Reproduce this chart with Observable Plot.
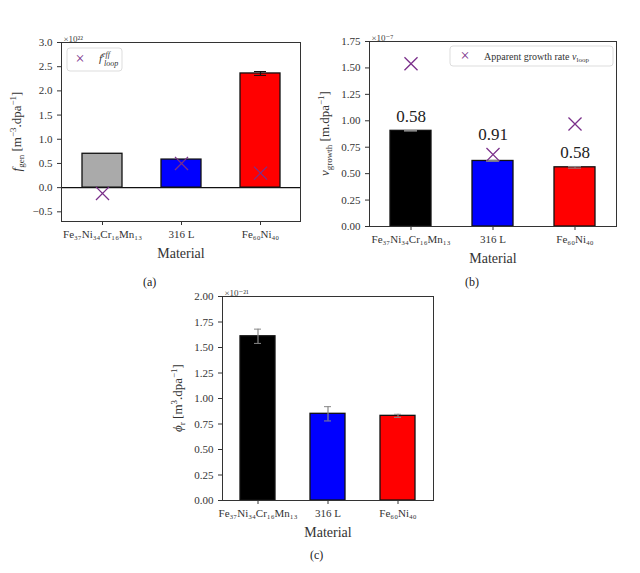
<!DOCTYPE html>
<html><head><meta charset="utf-8">
<script src="https://cdn.jsdelivr.net/npm/d3@7"></script>
<script src="https://cdn.jsdelivr.net/npm/@observablehq/plot@0.6"></script>
<style>
body{margin:0;background:#fff;font-family:"Liberation Serif","DejaVu Serif",serif}
#wrap{position:relative;width:640px;height:573px;overflow:hidden}
#wrap svg{position:absolute;overflow:visible}
.lab{position:absolute;font-size:12px;color:#222}
</style></head><body><div id="wrap"></div>
<script>
const materials = ["Fe₃₇Ni₃₄Cr₁₆Mn₁₃", "316 L", "Fe₆₀Ni₄₀"];
const colorsA = ["#aaaaaa", "#0000ff", "#ff0000"];
const colorsBC = ["#000000", "#0000ff", "#ff0000"];
// (a)
const fGen = [0.70, 0.58, 2.36];
const fGenErr = [0, 0, 0.04];
const fLoop = [-0.12, 0.50, 0.30];
// (b)
const vGrowth = [0.905, 0.62, 0.56];
const vGrowthErr = [0.003, 0.004, 0.008];
const vLoop = [1.54, 0.68, 0.97];
const ratioLabels = ["0.58", "0.91", "0.58"];
const ratioLabelY = [1.04, 0.87, 0.70];
// (c)
const phiR = [1.61, 0.85, 0.83];
const phiRErr = [0.07, 0.07, 0.015];

const wrap = document.getElementById("wrap");
const FONT = "Liberation Serif, DejaVu Serif, serif";

function panel(cfg){
  const rows = materials.map((m,i)=>({m, v:cfg.vals[i], e:cfg.err[i], c:cfg.colors[i], p:cfg.pts?cfg.pts[i]:null, t:cfg.txt?cfg.txt[i]:null, ty:cfg.txtY?cfg.txtY[i]:null}));
  const marks = [
    Plot.barY(rows,{x:"m",y:"v",fill:"c",stroke:"#111",strokeWidth:1.3}),
    Plot.ruleX(rows.filter(d=>d.e>0),{x:"m",y1:d=>d.v-d.e,y2:d=>d.v+d.e,stroke:cfg.errColor,strokeWidth:1.2}),
    Plot.tickY(rows.filter(d=>d.e>0),{x:"m",y:d=>d.v-d.e,stroke:cfg.errColor,inset:14}),
    Plot.tickY(rows.filter(d=>d.e>0),{x:"m",y:d=>d.v+d.e,stroke:cfg.errColor,inset:14}),
  ];
  if(cfg.zero) marks.push(Plot.ruleY([0],{stroke:"#111",strokeWidth:1.2}));
  if(cfg.pts) marks.push(Plot.dot(rows,{x:"m",y:"p",symbol:"times",r:6,stroke:"#7a2f8a",strokeWidth:1.3}));
  if(cfg.txt) marks.push(Plot.text(rows,{x:"m",y:"ty",text:"t",fontSize:17,fill:"#222"}));
  marks.push(Plot.frame({stroke:"#333"}));
  marks.push(Plot.text([cfg.exp],{frameAnchor:"top-left",text:d=>d,dy:-7,dx:2,textAnchor:"start",fontSize:9,fill:"#444"}));
  const svg = Plot.plot({
    width:cfg.w, height:cfg.h, marginLeft:cfg.ml, marginRight:cfg.mr, marginTop:12, marginBottom:40,
    style:{fontFamily:FONT,fontSize:"11px",color:"#333",background:"transparent"},
    x:{domain:materials,paddingInner:0.5,paddingOuter:0.25,label:"Material",labelAnchor:"center",labelOffset:36,tickSize:4},
    y:{domain:cfg.dom,ticks:cfg.ticks,tickFormat:cfg.fmt,label:null,tickSize:4},
    marks
  });
  svg.style.left=cfg.left+"px"; svg.style.top=cfg.top+"px";
  svg.querySelectorAll("[aria-label='x-axis label'] text").forEach(t=>t.setAttribute("font-size","14"));
  const s = d3.select(svg);
  const fh = cfg.h-52;
  const lab = s.append("text").attr("transform",`translate(${cfg.ml-40},${12+fh/2}) rotate(-90)`)
    .attr("text-anchor","middle").attr("font-size",13).attr("fill","#333").attr("font-family",FONT);
  cfg.ylab(lab);
  if(cfg.legend) cfg.legend(s, cfg);
  wrap.appendChild(svg);
}
function sub(t,s){t.append("tspan").attr("font-size",9).attr("dy",3).text(s);t.append("tspan").attr("dy",-3).text("\u200b");}
function sup(t,s){t.append("tspan").attr("font-size",9).attr("dy",-5).text(s);t.append("tspan").attr("dy",5).text("\u200b");}
const f1 = d=>d.toFixed(1).replace("-","−");
const f2 = d=>d.toFixed(2);

panel({left:0,top:30,w:310,h:231,ml:61,mr:10,vals:fGen,err:fGenErr,colors:colorsA,pts:fLoop,errColor:"#111",zero:true,
  dom:[-0.7,3.0],ticks:d3.range(-0.5,3.01,0.5),fmt:f1,exp:"×10²²",
  ylab:t=>{t.append("tspan").attr("font-style","italic").text("f");sub(t,"gen");t.append("tspan").text(" [m");sup(t,"−3");t.append("tspan").text(".dpa");sup(t,"−1");t.append("tspan").text("]");},
  legend:(s)=>{const x=67,y=18;
    s.append("rect").attr("x",x).attr("y",y).attr("width",55).attr("height",23).attr("rx",3).attr("fill","#fff").attr("stroke","#ddd");
    s.append("text").attr("x",x+13).attr("y",y+16).attr("text-anchor","middle").attr("font-size",16).attr("fill","#7a2f8a").text("×");
    const t=s.append("text").attr("x",x+32).attr("y",y+14).attr("text-anchor","start").attr("font-size",11).attr("font-style","italic").attr("fill","#333").attr("font-family",FONT);
    t.append("tspan").text("f");t.append("tspan").attr("font-size",8).attr("dy",-5).text("eff");
    s.append("text").attr("x",x+37).attr("y",y+18).attr("text-anchor","start").attr("font-size",8).attr("font-style","italic").attr("fill","#333").attr("font-family",FONT).text("loop");}
});
panel({left:320,top:29,w:310,h:237,ml:49,mr:14,vals:vGrowth,err:vGrowthErr,colors:colorsBC,pts:vLoop,errColor:"#888",
  txt:ratioLabels,txtY:ratioLabelY,dom:[0,1.75],ticks:d3.range(0,1.76,0.25),fmt:f2,exp:"×10⁻⁷",
  ylab:t=>{t.append("tspan").attr("font-style","italic").text("v");sub(t,"growth");t.append("tspan").text(" [m.dpa");sup(t,"−1");t.append("tspan").text("]");},
  legend:(s)=>{const x=130,y=17;
    s.append("rect").attr("x",x).attr("y",y).attr("width",163).attr("height",20).attr("rx",3).attr("fill","#fff").attr("stroke","#ddd");
    s.append("text").attr("x",x+15).attr("y",y+15).attr("text-anchor","middle").attr("font-size",16).attr("fill","#7a2f8a").text("×");
    const t=s.append("text").attr("x",x+34).attr("y",y+14).attr("text-anchor","start").attr("font-size",10).attr("fill","#333").attr("font-family",FONT);
    t.append("tspan").text("Apparent growth rate ");t.append("tspan").attr("font-style","italic").text("v");t.append("tspan").attr("font-size",7).attr("dy",2).text("loop");}
});
panel({left:160,top:284,w:290,h:256,ml:62,mr:17,vals:phiR,err:phiRErr,colors:colorsBC,errColor:"#888",
  dom:[0,2.0],ticks:d3.range(0,2.01,0.25),fmt:f2,exp:"×10⁻²¹",
  ylab:t=>{t.append("tspan").attr("font-style","italic").text("ϕ");sub(t,"r");t.append("tspan").text(" [m");sup(t,"3");t.append("tspan").text(".dpa");sup(t,"−1");t.append("tspan").text("]");}
});
[["(a)",143,275],["(b)",465,275],["(c)",310,548]].forEach(([s,x,y])=>{const d=document.createElement("div");d.className="lab";d.style.left=x+"px";d.style.top=y+"px";d.textContent=s;wrap.appendChild(d);});
</script></body></html>
